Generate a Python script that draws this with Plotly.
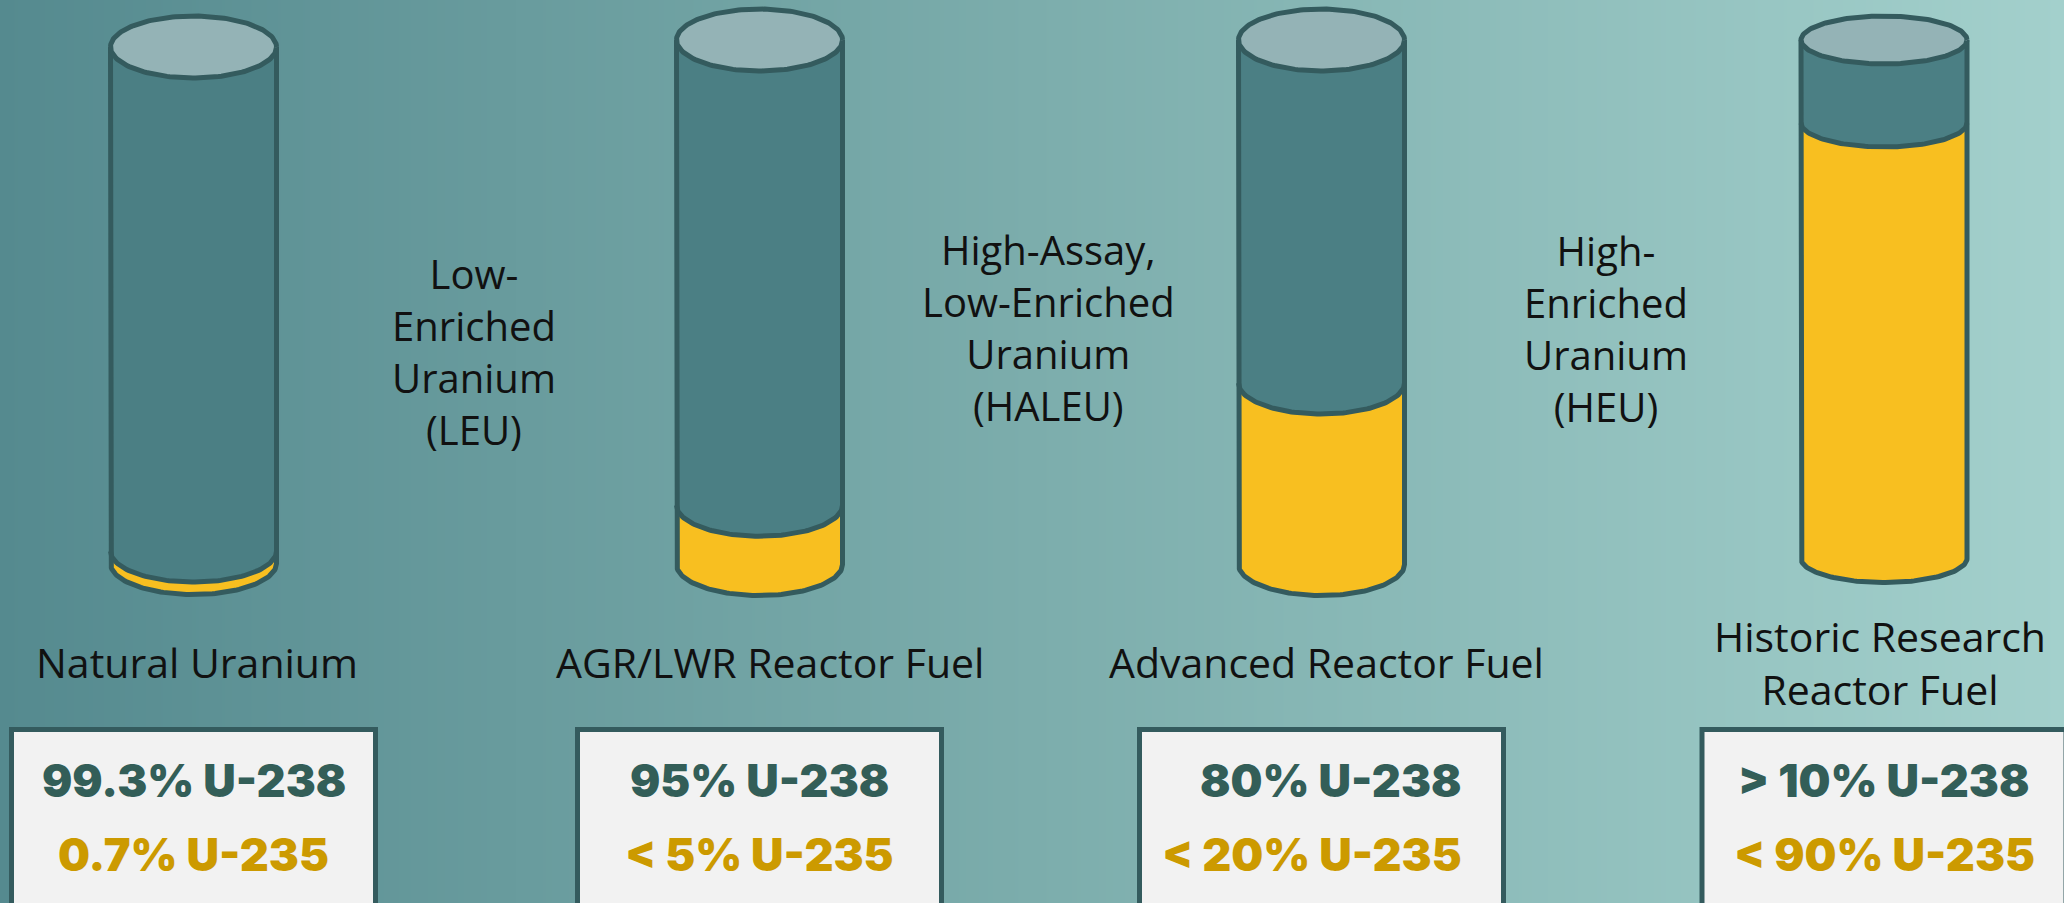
import numpy as np
import plotly.graph_objects as go

# ---------------- data ----------------
categories = ["Natural Uranium", "AGR/LWR Reactor Fuel", "Advanced Reactor Fuel",
              "Historic Research<br>Reactor Fuel"]
u238_labels = ["99.3% U-238", "95% U-238", "80% U-238", "> 10% U-238"]
u235_labels = ["0.7% U-235", "< 5% U-235", "< 20% U-235", "< 90% U-235"]
# drawn height of the U-235 (yellow) band, % of cylinder height
u235_fill_pct = [2.4, 11.3, 34.6, 84.0]
class_labels = ["Low-<br>Enriched<br>Uranium<br>(LEU)",
                "High-Assay,<br>Low-Enriched<br>Uranium<br>(HALEU)",
                "High-<br>Enriched<br>Uranium<br>(HEU)"]

# ---------------- layout / style ----------------
W, H = 2064, 903
cyl_cx = [193.5, 759.5, 1321.5, 1884]
cyl_top = [47, 40, 40, 40]
cyl_bot = [563.5, 564.5, 564.5, 558.5]
cyl_ry = [31, 31, 31, 24]
cyl_rx = 83
cat_x = [197, 770, 1326, 1880]
cat_y = 662
class_x = [474, 1048, 1606]
class_y = [351, 327, 328]
box_w = 364
box_top = 729.5
box_line1_y, box_line2_y = 780.5, 854.5
box_align = ["center", "center", "right", "center"]

C_BODY = "#4b7f84"
C_TOP = "#94b3b6"
C_EDGE = "#345b5e"
C_U235 = "#f8bf20"
C_BOX = "#f2f2f2"
C_T238 = "#335e58"
C_T235 = "#cc9a00"
LW = 5

fig = go.Figure()

# background gradient
fig.add_trace(go.Heatmap(z=[[0, 1], [0, 1]], x=[0, W], y=[0, H], zsmooth="best",
                         colorscale=[[0, "#558a8f"], [0.5, "#7cadac"], [1, "#a3d0cc"]],
                         showscale=False, hoverinfo="skip"))


def arc(cx, cy, rx, ry, t0, t1, n=90):
    t = np.linspace(t0, t1, n)
    return list(cx + rx * np.cos(t)), list(cy + ry * np.sin(t))


for i, pct in enumerate(u235_fill_pct):
    cx, top, bot, ry = cyl_cx[i], cyl_top[i], cyl_bot[i], cyl_ry[i]
    rx = cyl_rx
    level = bot - pct / 100.0 * (bot - top)
    # body
    ax, ay = arc(cx, bot, rx, ry, np.pi, 0)
    bx = [cx - rx] + ax + [cx + rx]
    by = [top] + ay + [top]
    fig.add_trace(go.Scatter(x=bx, y=by, fill="toself", fillcolor=C_BODY, mode="lines",
                             line=dict(width=0), hoverinfo="skip", showlegend=False))
    # U-235 band
    lx, ly = arc(cx, level, rx, ry, np.pi, 0)
    rbx, rby = arc(cx, bot, rx, ry, 0, np.pi)
    fig.add_trace(go.Scatter(x=lx + rbx, y=ly + rby, fill="toself", fillcolor=C_U235,
                             mode="lines", line=dict(width=0), hoverinfo="skip",
                             showlegend=False))
    # level boundary
    fig.add_trace(go.Scatter(x=lx, y=ly, mode="lines", line=dict(color=C_EDGE, width=LW),
                             hoverinfo="skip", showlegend=False))
    # outline
    fig.add_trace(go.Scatter(x=bx, y=by, mode="lines", line=dict(color=C_EDGE, width=LW),
                             hoverinfo="skip", showlegend=False))
    # top ellipse
    tx, ty = arc(cx, top, rx, ry, 0, 2 * np.pi, 180)
    fig.add_trace(go.Scatter(x=tx, y=ty, fill="toself", fillcolor=C_TOP, mode="lines",
                             line=dict(color=C_EDGE, width=LW), hoverinfo="skip",
                             showlegend=False))

    # category label
    fig.add_annotation(x=cat_x[i], y=cat_y, text=categories[i], showarrow=False,
                       xanchor="center", yanchor="middle",
                       font=dict(family="Open Sans", size=41, color="#111111"))
    # info box
    fig.add_shape(type="rect", x0=cx - box_w / 2, x1=cx + box_w / 2, y0=box_top, y1=H + 20,
                  fillcolor=C_BOX, line=dict(color=C_EDGE, width=LW), layer="above")
    if box_align[i] == "right":
        tx_pos, anchor = cx + 142, "right"
    else:
        tx_pos, anchor = cx, "center"
    fig.add_annotation(x=tx_pos, y=box_line1_y, text=u238_labels[i], showarrow=False,
                       xanchor=anchor, yanchor="middle",
                       font=dict(family="Inter", size=45, color=C_T238, weight=900))
    fig.add_annotation(x=tx_pos, y=box_line2_y, text=u235_labels[i], showarrow=False,
                       xanchor=anchor, yanchor="middle",
                       font=dict(family="Inter", size=45, color=C_T235, weight=900))

for j, lab in enumerate(class_labels):
    fig.add_annotation(x=class_x[j], y=class_y[j], text=lab, showarrow=False,
                       xanchor="center", yanchor="middle", align="center",
                       font=dict(family="Open Sans", size=40, color="#111111"))

fig.update_layout(width=W, height=H, margin=dict(l=0, r=0, t=0, b=0),
                  paper_bgcolor="#79aaa9", plot_bgcolor="#79aaa9", showlegend=False,
                  xaxis=dict(range=[0, W], visible=False, fixedrange=True),
                  yaxis=dict(range=[H, 0], visible=False, fixedrange=True))

fig.write_html("out.html", config={"displayModeBar": False})
